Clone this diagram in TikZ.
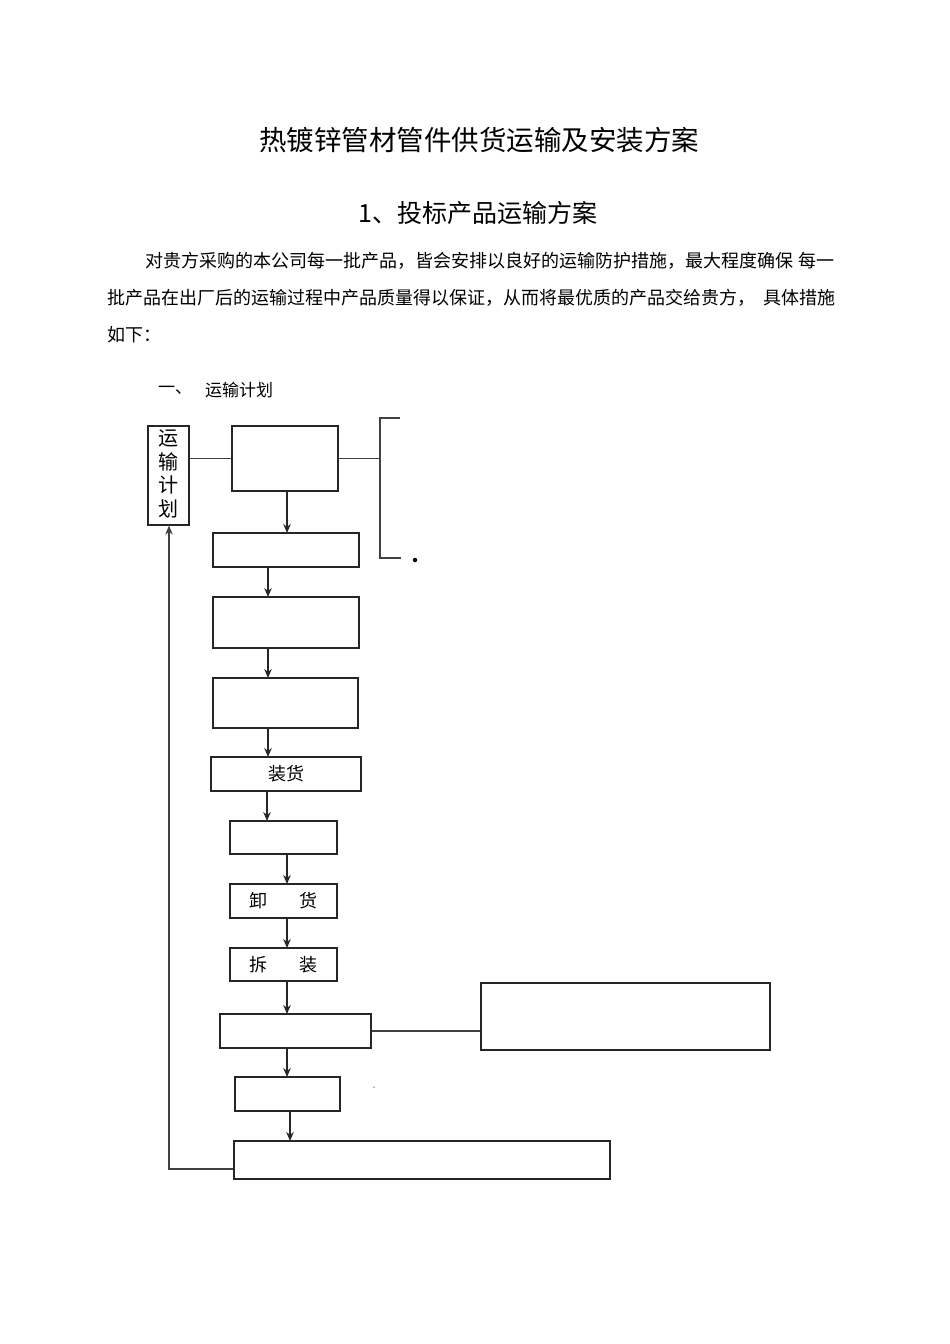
\documentclass[tikz,border=0pt]{standalone}
\usepackage{fontspec}
\setmainfont{Noto Sans CJK SC}
\usetikzlibrary{arrows.meta}
\begin{document}
\begin{tikzpicture}[x=1pt,y=-1pt,
  box/.style={draw=black!85,line width=1.1pt,fill=white,inner sep=0pt},
  lbl/.style={font=\fontsize{18}{20}\selectfont},
  arr/.style={draw=black!85,line width=1.1pt,-{Stealth[length=9pt,width=7.5pt]}},
  ln/.style={draw=black!75,line width=1.1pt},
  body/.style={anchor=west,inner sep=0pt,font=\fontsize{18}{20}\selectfont}]
\useasboundingbox (0,0) rectangle (950,1344);
% headings
\node[inner sep=0pt,font=\fontsize{27.5}{30}\selectfont] (title) at (479,140) {热镀锌管材管件供货运输及安装方案};
\node[inner sep=0pt,font=\fontsize{25}{28}\selectfont] (sub) at (478,213) {1、投标产品运输方案};
\node[body] (p1) at (145,261) {对贵方采购的本公司每一批产品，皆会安排以良好的运输防护措施，最大程度确保\hspace{5pt}每一};
\node[body] (p2) at (107,298) {批产品在出厂后的运输过程中产品质量得以保证，从而将最优质的产品交给贵方，\hspace{8pt}具体措施};
\node[body] (p3) at (107,335) {如下：};
\node[body,font=\fontsize{17}{19}\selectfont] (h1) at (158,390) {一、};
\node[body,font=\fontsize{17}{19}\selectfont] (h2) at (205,390) {运输计划};
% nodes
\node[box,minimum width=41pt,minimum height=99pt] (plan) at (168.5,475.5) {};
\node[inner sep=0pt,align=center,font=\fontsize{20}{23.5}\selectfont] (plantxt) at (168.5,474) {运\\输\\计\\划};
\node[box,minimum width=106pt,minimum height=65pt] (A) at (285,458.5) {};
\node[box,minimum width=146pt,minimum height=34pt] (B) at (286,550) {};
\node[box,minimum width=146pt,minimum height=51pt] (C) at (286,622.5) {};
\node[box,minimum width=145pt,minimum height=50pt,line width=1.5pt] (D) at (285.5,703) {};
\node[box,lbl,minimum width=150pt,minimum height=34pt] (E) at (286,774) {装货};
\node[box,minimum width=107pt,minimum height=33pt,line width=1.4pt] (F) at (283.5,837.5) {};
\node[box,lbl,minimum width=107pt,minimum height=34pt] (G) at (283.5,901) {卸\hspace{33pt}货};
\node[box,lbl,minimum width=107pt,minimum height=33pt] (H) at (283.5,964.5) {拆\hspace{33pt}装};
\node[box,minimum width=151pt,minimum height=34pt,line width=1.3pt] (I) at (295.5,1031) {};
\node[box,minimum width=289pt,minimum height=67pt] (J) at (625.5,1016.5) {};
\node[box,minimum width=105pt,minimum height=34pt] (K) at (287.5,1094) {};
\node[box,minimum width=376pt,minimum height=38pt] (L) at (422,1160) {};
% bracket
\coordinate (br) at (380,458.5);
\coordinate (brt) at (380,418);
\coordinate (brb) at (380,558);
\coordinate (brt2) at (400,418);
\coordinate (brb2) at (401,558);
\node[circle,fill=black,inner sep=0pt,minimum size=4.5pt] (dot) at (415,560) {};
\node[circle,fill=black!60,inner sep=0pt,minimum size=1.5pt] (dot2) at (374,1087) {};
% connectors
\draw[ln] (plan.east |- A.west) -- (A.west);
\draw[ln] (A.east) -- (br);
\draw[ln] (brt2) -- (brt) -- (brb) -- (brb2);
\draw[arr,line width=1.8pt] (287,491) -- (287,533);
\draw[arr] (268,567) -- (268,597);
\draw[arr] (268,648) -- (268,678);
\draw[arr] (268,728) -- (268,757);
\draw[arr] (267,791) -- (267,821);
\draw[arr] (287,854) -- (287,884);
\draw[arr] (287,918) -- (287,948);
\draw[arr] (287,981) -- (287,1014);
\draw[arr] (287,1048) -- (287,1077);
\draw[arr] (290,1111) -- (290,1141);
\draw[ln] (I.east) -- (J.west |- I.east);
\coordinate (fb) at (169,1169);
\draw[ln,-{Stealth[length=9pt,width=7.5pt]}] (L.west |- fb) -- (fb) -- (plan.south -| fb);
\end{tikzpicture}
\end{document}
